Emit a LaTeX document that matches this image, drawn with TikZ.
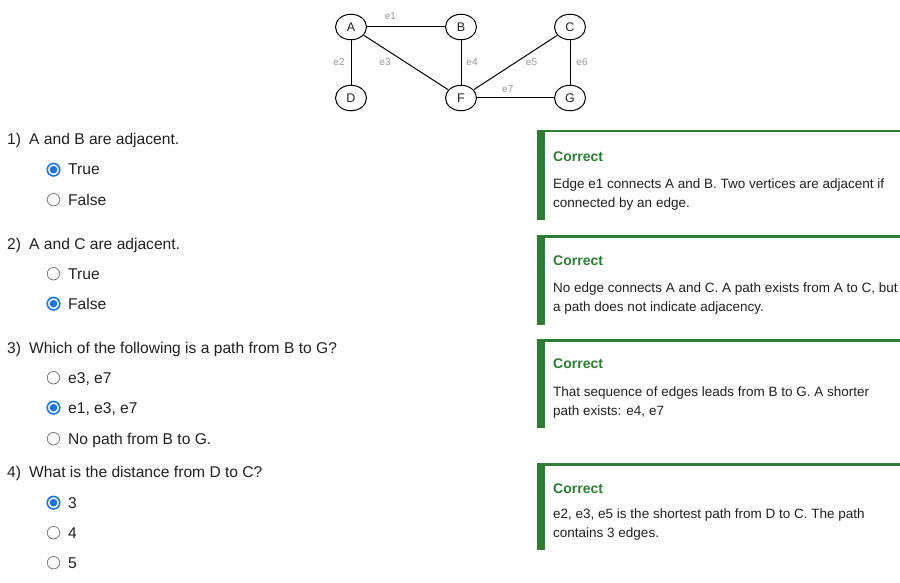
\documentclass[tikz,border=0pt]{standalone}
\usepackage{fontspec}
\setmainfont{Liberation Sans}
\usetikzlibrary{positioning,shapes.geometric}
\definecolor{colTexte}{RGB}{33,33,33}
\definecolor{colVert}{RGB}{46,125,50}
\definecolor{colBleu}{RGB}{26,115,232}
\definecolor{colRadio}{RGB}{110,110,110}
\definecolor{colEtiq}{RGB}{150,150,150}

\begin{document}
\begin{tikzpicture}[x=1pt, y=-1pt, text=colTexte,
    sommet/.style={ellipse, draw, line width=1pt, fill=white, inner sep=0pt,
      minimum width=31pt, minimum height=25.5pt, font=\fontsize{12.5}{12.5}\selectfont},
    arete/.style={line width=1pt},
    lab/.style={text=colEtiq, inner sep=0pt, font=\fontsize{10}{10}\selectfont},
    quest/.style={anchor=base west, inner sep=0pt, font=\fontsize{15.6}{18}\selectfont},
    radio/.style={circle, draw=colRadio, line width=0.7pt, minimum size=12.5pt, inner sep=0pt},
    radiosel/.style={radio, draw=colBleu, line width=1.6pt, path picture={
      \fill[colBleu] (path picture bounding box.center) circle (3.8pt);}},
    titre/.style={anchor=base west, inner sep=0pt, text=colVert,
      font=\fontsize{14}{14}\selectfont\bfseries},
    corps/.style={anchor=north west, align=left, inner sep=0pt,
      font=\fontsize{13.5}{19}\selectfont}]
  \useasboundingbox[fill=white] (0,0) rectangle (900,583);
  % graphe
  \node[sommet] (A) at (351,27) {A};
  \node[sommet] (B) at (461,27) {B};
  \node[sommet] (C) at (570,27) {C};
  \node[sommet] (D) at (351,98) {D};
  \node[sommet] (F) at (461,98) {F};
  \node[sommet] (G) at (570,98) {G};
  \draw[arete] (A) -- node[lab, pos=0.3, yshift=11pt] {e1} (B);
  \draw[arete] (A) -- node[lab, midway, xshift=-12pt] {e2} (D);
  \draw[arete] (A) -- node[lab, midway, xshift=-21pt] {e3} (F);
  \draw[arete] (B) -- node[lab, midway, xshift=11pt] {e4} (F);
  \draw[arete] (C) -- node[lab, midway, xshift=16pt] {e5} (F);
  \draw[arete] (C) -- node[lab, midway, xshift=12pt] {e6} (G);
  \draw[arete] (F) -- node[lab, pos=0.4, yshift=9pt] {e7} (G);
  % questions
  \node[quest] (q1) at (7,145) {\makebox[22pt][l]{1)}A and B are adjacent.};
  \node[quest] (q2) at (7,249) {\makebox[22pt][l]{2)}A and C are adjacent.};
  \node[quest] (q3) at (7,353) {\makebox[22pt][l]{3)}Which of the following is a path from B to G?};
  \node[quest] (q4) at (7,477) {\makebox[22pt][l]{4)}What is the distance from D to C?};
  \foreach \y/\s/\txt/\nom in {175/radiosel/True/r1a, 205/radio/False/r1b,
      279/radio/True/r2a, 309/radiosel/False/r2b,
      383/radio/{e3, e7}/r3a, 413/radiosel/{e1, e3, e7}/r3b,
      444/radio/{No path from B to G.}/r3c,
      508/radiosel/3/r4a, 538/radio/4/r4b, 568/radio/5/r4c} {
    \node[\s] (\nom) at (53.5,\y-5.3) {};
    \node[quest] (\nom t) at (68,\y) {\txt};
  }
  % retours
  \foreach \h/\b in {130/220, 235/325, 339/428, 463/550} {
    \fill[colVert] (537,\h) rectangle (545,\b);
    \fill[colVert] (537,\h) rectangle (900,{\h+2.5});
  }
  \node[titre] (c1) at (553,161) {Correct};
  \node[corps] (t1) at (553,179)
    {Edge e1 connects A and B. Two vertices are adjacent if\\connected by an edge.};
  \node[titre] (c2) at (553,265) {Correct};
  \node[corps] (t2) at (553,283)
    {No edge connects A and C. A path exists from A to C, but\\a path does not indicate adjacency.};
  \node[titre] (c3) at (553,368) {Correct};
  \node[corps] (t3) at (553,387)
    {That sequence of edges leads from B to G. A shorter\\path exists: e4, e7};
  \node[titre] (c4) at (553,493) {Correct};
  \node[corps] (t4) at (553,509)
    {e2, e3, e5 is the shortest path from D to C. The path\\contains 3 edges.};
\end{tikzpicture}
\end{document}
